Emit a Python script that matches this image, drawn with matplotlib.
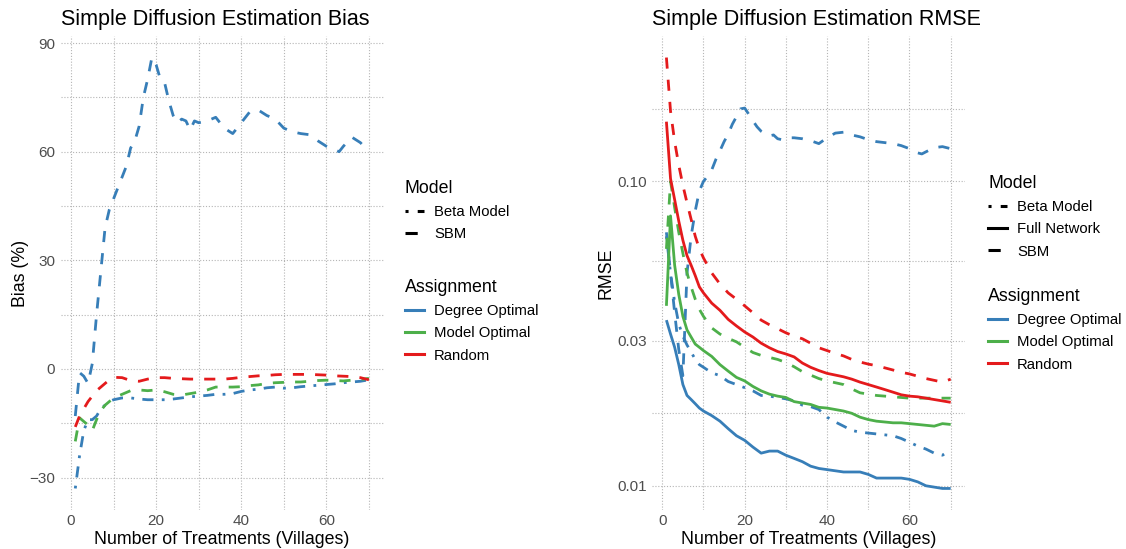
import numpy as np
import matplotlib.pyplot as plt
from matplotlib.lines import Line2D
from matplotlib.ticker import FixedLocator, NullFormatter

plt.rcParams['font.family'] = ['Liberation Sans', 'DejaVu Sans']

# x values (number of treated villages)
n_treat = [1, 2, 3, 4, 5, 6, 7, 8, 9, 10, 12, 14, 16, 18, 20, 22, 24, 26, 28, 30,
           32, 34, 36, 38, 40, 42, 44, 46, 48, 50, 52, 54, 56, 58, 60, 62, 64, 66, 68, 70]
n_treat_fine = [1, 2, 3, 4, 5, 6, 7, 8, 9, 10, 11, 12, 13, 14, 15, 16, 17, 18, 19, 20,
                21, 22, 23, 24, 25, 26, 27, 28, 29, 30, 32, 34, 36, 38, 40, 42, 44, 46, 48, 50,
                52, 54, 56, 58, 60, 62, 63, 64, 66, 68, 70]

# ---- Bias (%) ----
bias_degree_sbm = [-13, -1, -2, -4, 1.5, 15, 27, 39, 44, 47, 50, 53, 56, 61, 63, 67, 75, 80, 86, 84,
                   80, 79, 74, 70, 68, 69, 68.5, 66, 68.5, 68, 68.5, 69.5, 66.5, 65, 68, 71, 71.5, 70, 69, 66.5,
                   65.5, 65, 64.7, 63, 61.5, 60.5, 60, 61.5, 64, 62.5, 60]
bias_degree_beta = [-33, -24, -17, -14, -14, -13, -11, -10, -9, -8.5, -8, -8, -8.3, -8.5, -8.5, -8.5, -8.3, -8, -7.7, -7.5,
                    -7.3, -7, -7, -6.8, -6.2, -5.8, -5.6, -5.2, -5, -5.3, -5.2, -4.9, -4.7, -4.5, -4.3, -4.1, -3.8, -3.6, -3.4, -3]
bias_model_sbm = [-20, -13.5, -14.5, -15.5, -17, -14, -11.5, -10, -9, -8, -7, -6, -5.8, -6, -5.8, -6.3, -7, -7.2, -6.8, -6.4,
                  -5.8, -5, -5, -5, -4.9, -4.6, -4.4, -4, -3.8, -3.7, -3.6, -3.6, -3.4, -3.2, -3.1, -3.2, -3.3, -3.1, -2.9, -2.6]
bias_random_sbm = [-16, -13, -11, -9, -7.5, -6, -5, -4, -3, -2.3, -2.4, -3.2, -3.4, -2.8, -2.4, -2.4, -2.6, -2.7, -2.8, -2.8,
                   -2.8, -2.8, -2.8, -2.6, -2.3, -2.1, -1.9, -1.8, -1.6, -1.5, -1.5, -1.5, -1.5, -1.6, -1.7, -1.9, -2, -2.1, -2.4, -3]

# ---- RMSE ----
rmse_degree_sbm = [0.068, 0.05, 0.037, 0.028, 0.023, 0.05, 0.066, 0.08, 0.093, 0.1, 0.104, 0.109, 0.118, 0.126, 0.135, 0.143, 0.154, 0.163, 0.173, 0.174,
                   0.166, 0.158, 0.151, 0.146, 0.143, 0.141, 0.142, 0.138, 0.137, 0.139, 0.139, 0.138, 0.136, 0.133, 0.139, 0.144, 0.145, 0.142, 0.14, 0.137,
                   0.135, 0.134, 0.133, 0.131, 0.128, 0.124, 0.123, 0.125, 0.129, 0.130, 0.128]
rmse_degree_beta = [0.066, 0.05, 0.04, 0.034, 0.031, 0.029, 0.0275, 0.026, 0.025, 0.0245, 0.0235, 0.023, 0.022, 0.0215, 0.021, 0.0205, 0.0198, 0.0197, 0.0195, 0.0193,
                    0.019, 0.0184, 0.0182, 0.0178, 0.0168, 0.0162, 0.0157, 0.0152, 0.015, 0.0149, 0.0148, 0.0147, 0.0146, 0.0143, 0.0139, 0.0135, 0.0132, 0.0128, 0.0126, 0.0131]
rmse_degree_full = [0.035, 0.0315, 0.0285, 0.025, 0.0215, 0.0198, 0.0192, 0.0186, 0.018, 0.0176, 0.017, 0.0163, 0.0154, 0.0146, 0.0141, 0.0134, 0.0128, 0.013, 0.013, 0.0126,
                    0.0123, 0.012, 0.0116, 0.0114, 0.0113, 0.0112, 0.0111, 0.0111, 0.0111, 0.0109, 0.0106, 0.0106, 0.0106, 0.0106, 0.0105, 0.0103, 0.01, 0.0099, 0.0098, 0.0098]
rmse_model_sbm = [0.06, 0.1, 0.082, 0.068, 0.058, 0.05, 0.045, 0.041, 0.038, 0.036, 0.033, 0.0315, 0.0305, 0.0297, 0.0285, 0.0274, 0.0268, 0.0264, 0.026, 0.0254,
                  0.0246, 0.0237, 0.0231, 0.0225, 0.0221, 0.0218, 0.0215, 0.0208, 0.0202, 0.02, 0.0198, 0.0197, 0.0196, 0.0195, 0.0194, 0.0194, 0.0194, 0.0194, 0.0194, 0.0194]
rmse_model_full = [0.039, 0.077, 0.053, 0.0425, 0.036, 0.0325, 0.0308, 0.0292, 0.0285, 0.0278, 0.0266, 0.025, 0.0238, 0.0227, 0.0221, 0.0212, 0.0205, 0.02, 0.0197, 0.0195,
                   0.0189, 0.0187, 0.0185, 0.0181, 0.018, 0.0178, 0.0176, 0.0173, 0.0168, 0.0165, 0.0163, 0.0162, 0.0161, 0.0161, 0.016, 0.0159, 0.0158, 0.0157, 0.016, 0.0159]
rmse_random_sbm = [0.255, 0.17, 0.135, 0.113, 0.097, 0.085, 0.075, 0.066, 0.06, 0.056, 0.05, 0.046, 0.043, 0.041, 0.039, 0.037, 0.035, 0.0338, 0.0328, 0.0318,
                   0.031, 0.0304, 0.0294, 0.0284, 0.0278, 0.0272, 0.0267, 0.026, 0.0255, 0.0251, 0.0248, 0.0244, 0.024, 0.0236, 0.0233, 0.0229, 0.0225, 0.0222, 0.0219, 0.0224]
rmse_random_full = [0.157, 0.102, 0.087, 0.074, 0.064, 0.057, 0.053, 0.049, 0.045, 0.043, 0.0398, 0.0377, 0.0352, 0.0335, 0.032, 0.0308, 0.0294, 0.0284, 0.0276, 0.0271,
                    0.0265, 0.0253, 0.0245, 0.0239, 0.0234, 0.0231, 0.0228, 0.0224, 0.0219, 0.0215, 0.0211, 0.0207, 0.0203, 0.0199, 0.0197, 0.0196, 0.0194, 0.0192, 0.019, 0.0188]

assignments = ["Degree Optimal", "Model Optimal", "Random"]
colors = {"Degree Optimal": "#377EB8", "Model Optimal": "#4DAF4A", "Random": "#E41A1C"}
linetypes = {"Beta Model": (0, (1, 3, 4, 3)), "Full Network": "-", "SBM": (0, (4, 4))}

bias_lines = [
    ("Degree Optimal", "SBM", n_treat_fine, bias_degree_sbm),
    ("Degree Optimal", "Beta Model", n_treat, bias_degree_beta),
    ("Model Optimal", "SBM", n_treat, bias_model_sbm),
    ("Random", "SBM", n_treat, bias_random_sbm),
]
rmse_lines = [
    ("Degree Optimal", "SBM", n_treat_fine, rmse_degree_sbm),
    ("Degree Optimal", "Beta Model", n_treat, rmse_degree_beta),
    ("Degree Optimal", "Full Network", n_treat, rmse_degree_full),
    ("Model Optimal", "SBM", n_treat, rmse_model_sbm),
    ("Model Optimal", "Full Network", n_treat, rmse_model_full),
    ("Random", "SBM", n_treat, rmse_random_sbm),
    ("Random", "Full Network", n_treat, rmse_random_full),
]

W, H = 1126, 549
fig = plt.figure(figsize=(W / 100, H / 100), dpi=100)
ax1 = fig.add_axes([60.6 / W, 39 / H, 323 / W, 474 / H])
ax2 = fig.add_axes([652.2 / W, 39 / H, 312.7 / W, 474 / H])

grid_kw = dict(color="#B5B5B5", linestyle=(0, (1, 1.6)), linewidth=0.8)


def style(ax):
    for s in ax.spines.values():
        s.set_visible(False)
    ax.tick_params(which="both", length=0, labelsize=11, labelcolor="#4D4D4D")
    ax.tick_params(axis="y", pad=4)
    ax.tick_params(axis="x", pad=3)
    ax.set_xticks([0, 20, 40, 60])
    ax.xaxis.set_minor_locator(FixedLocator([10, 30, 50, 70]))
    ax.grid(which="both", **grid_kw)
    ax.set_axisbelow(True)
    ax.set_xlabel("Number of Treatments (Villages)", fontsize=12.8, labelpad=2)


def draw(ax, lines):
    for assign, model, x, y in lines:
        ax.plot(x, y, color=colors[assign], linestyle=linetypes[model], lw=2.0,
                solid_capstyle="butt", dash_capstyle="butt")
    xs = np.concatenate([l[2] for l in lines])
    pad = 0.05 * (xs.max() - xs.min())
    ax.set_xlim(xs.min() - pad, xs.max() + pad)


# left: bias
draw(ax1, bias_lines)
style(ax1)
ys = np.concatenate([l[3] for l in bias_lines])
pad = 0.05 * (ys.max() - ys.min())
ax1.set_ylim(ys.min() - pad, ys.max() + pad)
ax1.set_yticks([-30, 0, 30, 60, 90])
ax1.yaxis.set_minor_locator(FixedLocator([-15, 15, 45, 75]))
ax1.set_ylabel("Bias (%)", fontsize=12.8, labelpad=0)
ax1.set_title("Simple Diffusion Estimation Bias", loc="left", fontsize=15.5, pad=8)

# right: RMSE (log scale)
draw(ax2, rmse_lines)
ax2.set_yscale("log")
style(ax2)
ly = np.log10(np.concatenate([l[3] for l in rmse_lines]))
pad = 0.05 * (ly.max() - ly.min())
ax2.set_ylim(10 ** (ly.min() - pad), 10 ** (ly.max() + pad))
ax2.yaxis.set_major_locator(FixedLocator([0.01, 0.03, 0.1]))
ax2.set_yticklabels(["0.01", "0.03", "0.10"])
ax2.yaxis.set_minor_locator(FixedLocator([np.sqrt(0.01 * 0.03), np.sqrt(0.03 * 0.1), np.sqrt(0.1 * 0.3)]))
ax2.yaxis.set_minor_formatter(NullFormatter())
ax2.set_ylabel("RMSE", fontsize=12.8, labelpad=2)
ax2.set_title("Simple Diffusion Estimation RMSE", loc="left", fontsize=15.5, pad=8)


# legends
def add_legend(models, x_px, y_model, y_assign):
    leg_kw = dict(loc="upper left", frameon=False, fontsize=10.7, title_fontsize=12.8,
                  handlelength=1.25, handletextpad=0.7, labelspacing=0.55,
                  borderpad=0, borderaxespad=0, alignment="left")
    h1 = [Line2D([], [], color="black", lw=2.2, linestyle=linetypes[m]) for m in models]
    fig.legend(h1, models, title="Model", bbox_to_anchor=(x_px / W, 1 - y_model / H), **leg_kw)
    h2 = [Line2D([], [], color=colors[a], lw=2.2) for a in assignments]
    fig.legend(h2, assignments, title="Assignment", bbox_to_anchor=(x_px / W, 1 - y_assign / H), **leg_kw)


add_legend(["Beta Model", "SBM"], 405, 180, 279)
add_legend(["Beta Model", "Full Network", "SBM"], 988, 175, 288)

fig.savefig("out.png", dpi=100)
